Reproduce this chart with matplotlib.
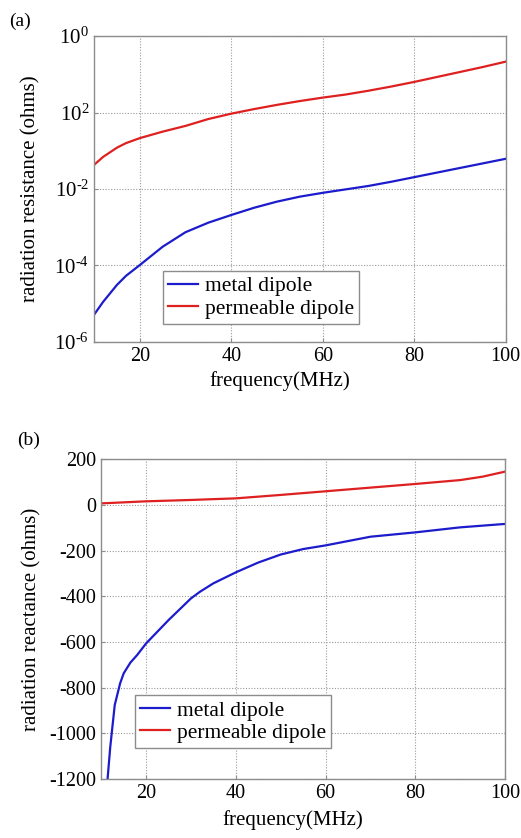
import matplotlib
matplotlib.use("Agg")
import matplotlib.pyplot as plt
import numpy as np

plt.rcParams["font.family"] = ["Liberation Serif", "DejaVu Serif"]
plt.rcParams["mathtext.fontset"] = "custom"
plt.rcParams["mathtext.rm"] = "Liberation Serif"
plt.rcParams["mathtext.it"] = "Liberation Serif:italic"
plt.rcParams["axes.unicode_minus"] = False

# (a) radiation resistance, log10(ohms)
freq_r = [10, 12, 15, 17, 20, 25, 30, 35, 40, 45, 50, 55, 60, 65, 70, 75, 80, 85, 90, 95, 100]
metal_r_log = [-5.29, -4.95, -4.51, -4.27, -3.99, -3.51, -3.13, -2.88, -2.68, -2.49, -2.33, -2.20,
               -2.10, -2.01, -1.92, -1.81, -1.69, -1.57, -1.45, -1.33, -1.21]
perm_r_log = [-1.37, -1.16, -0.92, -0.80, -0.67, -0.50, -0.35, -0.17, -0.03, 0.09, 0.20, 0.30,
              0.39, 0.47, 0.57, 0.68, 0.80, 0.93, 1.06, 1.19, 1.33]
res_ticks = [1e-6, 1e-4, 1e-2, 1e0, 1e2]
res_ticklabels = ["$10^{\u20106}$", "$10^{\u20104}$", "$10^{\u20102}$", "$10^{2}$", "$10^{0}$"]

# (b) radiation reactance, ohms
freq_x = [11.4, 12, 13, 14.2, 15, 16.5, 18, 20, 25, 30, 32, 35, 40, 45, 50, 55, 60, 70, 80, 90, 100]
metal_x = [-1200, -1060, -876, -781, -737, -690, -657, -606, -504, -409, -380, -343, -295, -252,
           -217, -193, -177, -139, -120, -98, -83]
freq_xp = [10, 20, 30, 40, 50, 60, 70, 80, 90, 95, 100]
perm_x = [7, 16, 22, 29, 44, 60, 76, 92, 109, 124, 146]

freq_ticks = [20, 40, 60, 80, 100]
react_ticks = [200, 0, -200, -400, -600, -800, -1000, -1200]

BLUE = "#1c1ccc"
RED = "#de2020"
GRID = dict(color="#9a9a9a", linestyle=(0, (1, 1.5)), linewidth=0.8)


def style_axes(ax):
    for s in ax.spines.values():
        s.set_edgecolor("#8c8c8c")
        s.set_linewidth(1.0)
    ax.tick_params(direction="in", length=3, colors="#8c8c8c", labelcolor="black",
                   labelsize=14.5, which="both")
    ax.grid(True, **GRID)
    ax.set_axisbelow(True)


LEGEND = dict(loc="lower left", fontsize=15.5, frameon=True, fancybox=False,
              edgecolor="#8c8c8c", framealpha=1, handlelength=1.4, handletextpad=0.3,
              borderpad=0.25, labelspacing=0.1, borderaxespad=0)

fig = plt.figure(figsize=(5.21, 8.38), dpi=100)

ax1 = fig.add_axes([0.1804, 0.5919, 0.7902, 0.3651])
ax1.plot(freq_r, 10 ** np.array(metal_r_log), color=BLUE, lw=1.6, label="metal dipole")
ax1.plot(freq_r, 10 ** np.array(perm_r_log), color=RED, lw=1.6, label="permeable dipole")
ax1.set_yscale("log")
ax1.set_xlim(10, 100)
ax1.set_ylim(1e-6, 1e2)
ax1.set_yticks(res_ticks)
ax1.set_yticklabels(res_ticklabels)
ax1.yaxis.set_minor_locator(matplotlib.ticker.NullLocator())
ax1.set_xticks(freq_ticks)
style_axes(ax1)
ax1.tick_params(axis="y", labelsize=15)
ax1.set_xlabel("frequency(MHz)", fontsize=15)
ax1.xaxis.set_label_coords(0.452, -0.095, transform=ax1.transAxes)
ax1.xaxis.label.set_va("top")
ax1.set_ylabel("radiation resistance (ohms)", fontsize=15, labelpad=10)
ax1.legend(bbox_to_anchor=(0.167, 0.059), **LEGEND)
fig.text(0.018, 0.975, "(a)", fontsize=14, ha="left", va="center")

ax2 = fig.add_axes([0.1944, 0.0704, 0.7749, 0.3815])
ax2.plot(freq_x, metal_x, color=BLUE, lw=1.6, label="metal dipole")
ax2.plot(freq_xp, perm_x, color=RED, lw=1.6, label="permeable dipole")
ax2.set_xlim(10, 100)
ax2.set_ylim(-1200, 200)
ax2.set_yticks(react_ticks)
ax2.set_xticks(freq_ticks)
style_axes(ax2)
ax2.set_xlabel("frequency(MHz)", fontsize=15)
ax2.xaxis.set_label_coords(0.475, -0.098, transform=ax2.transAxes)
ax2.xaxis.label.set_va("top")
ax2.set_ylabel("radiation reactance (ohms)", fontsize=15, labelpad=6)
ax2.legend(bbox_to_anchor=(0.083, 0.096), **LEGEND)
fig.text(0.033, 0.475, "(b)", fontsize=14, ha="left", va="center")

fig.savefig("out.png", dpi=100)
